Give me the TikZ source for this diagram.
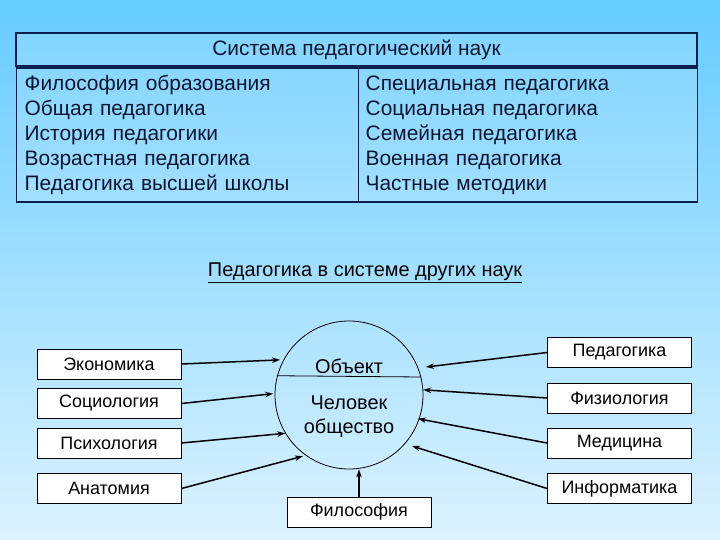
\documentclass[tikz,border=0pt]{standalone}
\usepackage{fontspec}
\setmainfont{Liberation Sans}
\usetikzlibrary{arrows.meta, positioning, calc}
\definecolor{skytop}{HTML}{66CCFF}
\definecolor{skybottom}{HTML}{DCF2FF}
\definecolor{tableline}{HTML}{0B1F4F}
\definecolor{tabletext}{HTML}{0A1530}

\tikzset{
  tablecell/.style={rectangle, draw=tableline, line width=1.3bp, fill=white, fill opacity=0.15, text opacity=1, text=tabletext},
  tablelist/.style={tablecell, minimum height=134bp, align=left, anchor=west, font=\fontsize{21}{25}\selectfont},
  sciencebox/.style={rectangle, draw, line width=0.9bp, fill=white, minimum width=144bp, minimum height=30bp, inner sep=0pt, font=\fontsize{18}{21}\selectfont},
  sciarrow/.style={line width=1.5bp, -{Stealth[length=8bp,width=5.5bp]}},
}

\begin{document}
\begin{tikzpicture}[x=1bp, y=-1bp]
    \shade[top color=skytop, bottom color=skybottom] (0,0) rectangle (720,540);
    \useasboundingbox (0,0) rectangle (720,540);

    % table of pedagogical sciences
    \node [tablecell, minimum width=681bp, minimum height=33bp, font=\fontsize{21}{24}\selectfont] (head) at (356.5,49.5) {Система педагогический наук};
    \node [tablelist, minimum width=342bp, text width=326bp, inner xsep=8bp] (general) at (16,135) {Философия образования\\Общая педагогика\\История педагогики\\Возрастная педагогика\\Педагогика высшей школы};
    \node [tablelist, minimum width=339bp, text width=325bp, inner xsep=7bp] (special) at (358,135) {Специальная педагогика\\Социальная педагогика\\Семейная педагогика\\Военная педагогика\\Частные методики};

    \node [font=\fontsize{20}{24}\selectfont] (title) at (365,273) {\underline{Педагогика в системе других наук}};

    % object of study
    \node [circle, draw, line width=0.8bp, minimum size=148bp] (core) at (349,395) {};
    \draw [line width=0.8bp] (core.165.9) -- (core.14.1);
    \node [font=\fontsize{20}{24}\selectfont] (object) at (349,366) {Объект};
    \node [font=\fontsize{20}{24}\selectfont, align=center] (human) at (349,417) {Человек\\общество};

    % neighbouring sciences
    \node [sciencebox] (econ) at (109,364) {Экономика};
    \node [sciencebox] (socio) at (109,403.5) {Социология};
    \node [sciencebox] (psych) at (109,443) {Психология};
    \node [sciencebox] (anat) at (109,488.5) {Анатомия};
    \node [sciencebox] (pedag) at (619.5,352.5) {Педагогика};
    \node [sciencebox] (physio) at (619.5,398) {Физиология};
    \node [sciencebox] (medic) at (619.5,443) {Медицина};
    \node [sciencebox] (inform) at (619.5,488.5) {Информатика};
    \node [sciencebox] (philo) at (359,512) {Философия};

    \draw [sciarrow] (econ.east) -- ($(core.center)!1.04!(core.153)$);
    \draw [sciarrow] (socio.east) -- ($(core.center)!1.02!(core.179)$);
    \draw [sciarrow] (psych.east) -- (core.211);
    \draw [sciarrow] (anat.east) -- ($(core.center)!1.03!(core.233)$);
    \draw [sciarrow] (pedag.west) -- ($(core.center)!1.1!(core.20.6)$);
    \draw [sciarrow] (physio.west) -- ($(core.center)!1.0!(core.4.7)$);
    \draw [sciarrow] (medic.west) -- ($(core.center)!0.98!(core.341)$);
    \draw [sciarrow] (inform.west) -- ($(core.center)!1.09!(core.321)$);
    \draw [sciarrow] (philo.north) -- (core.south -| philo.north);
\end{tikzpicture}
\end{document}
